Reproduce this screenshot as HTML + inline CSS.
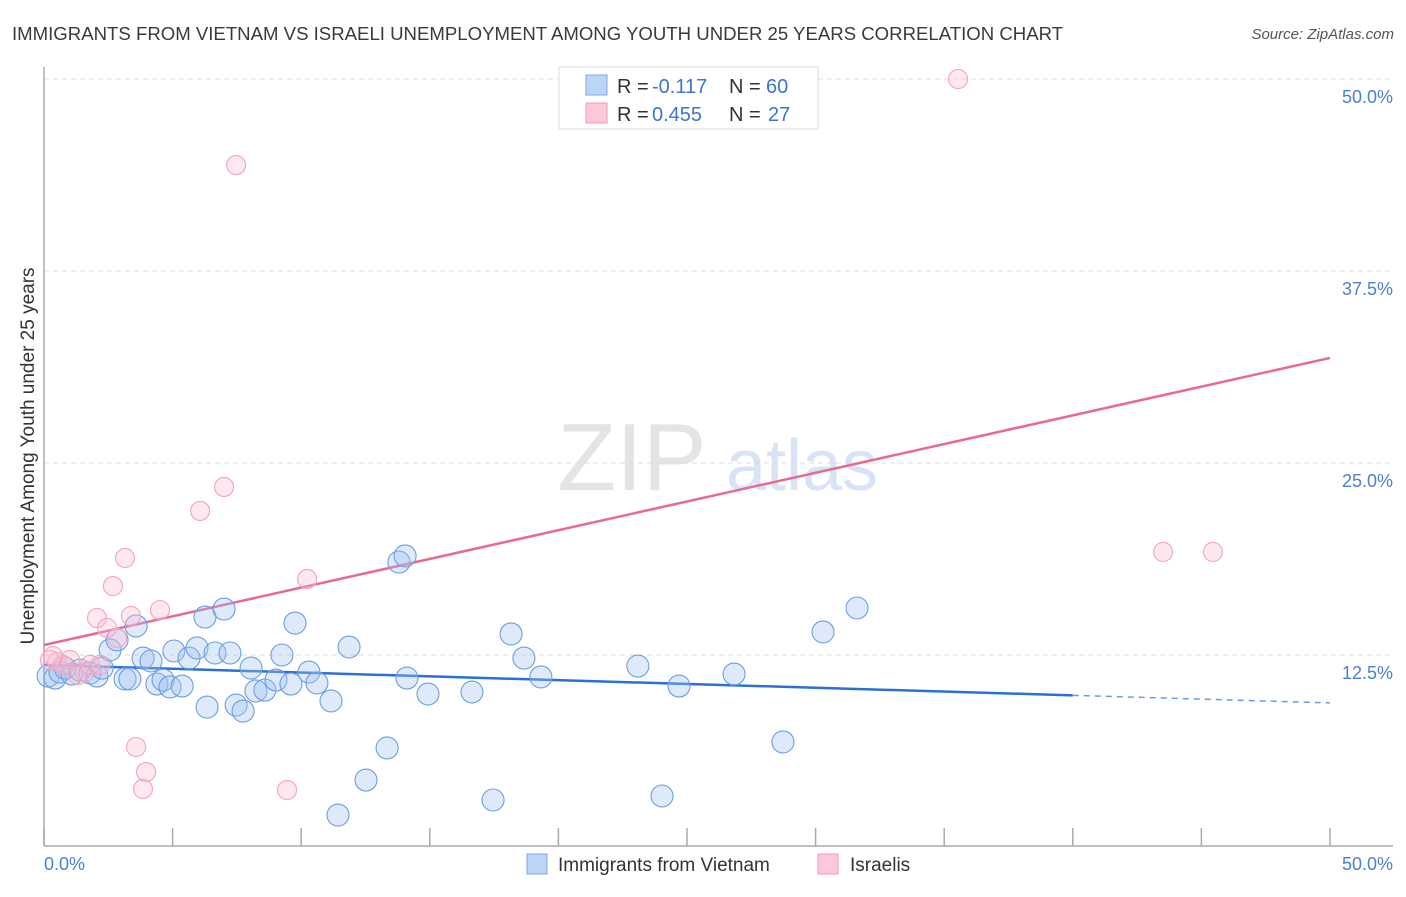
<!DOCTYPE html>
<html><head><meta charset="utf-8"><style>
body{margin:0;background:#fff;font-family:"Liberation Sans",sans-serif;}
svg text{font-family:"Liberation Sans",sans-serif;}
</style></head><body>
<svg id="chart" width="1406" height="892" xmlns="http://www.w3.org/2000/svg">
<text x="12" y="40" font-size="18.6" fill="#3a3a3a">IMMIGRANTS FROM VIETNAM VS ISRAELI UNEMPLOYMENT AMONG YOUTH UNDER 25 YEARS CORRELATION CHART</text>
<text x="1394" y="39" font-size="15" fill="#555" text-anchor="end" font-style="italic">Source: ZipAtlas.com</text>
<g>
<text x="632" y="490" font-size="96" fill="#e4e4e4" text-anchor="middle" font-family="Liberation Serif,serif">ZIP</text>
<text x="802" y="490" font-size="72" fill="#d8e4f6" text-anchor="middle">atlas</text>
</g>
<g id="grid"></g>
<line x1="44" y1="67" x2="44" y2="846" stroke="#aaa" stroke-width="1.5"/>
<line x1="44" y1="846" x2="1393" y2="846" stroke="#aaa" stroke-width="1.5"/>
<g id="xticks"></g>
<text transform="translate(34,456) rotate(-90)" font-size="19" fill="#333" text-anchor="middle">Unemployment Among Youth under 25 years</text>
<text x="44" y="870" font-size="18" fill="#4a7fd6">0.0%</text>
<text x="1393" y="870" font-size="18" fill="#4a7fd6" text-anchor="end">50.0%</text>
<g id="lines"></g>
<g id="points"></g>
<g>
<rect x="559" y="67" width="259" height="62" fill="#fff" stroke="#ddd"/>
<rect x="586" y="75" width="21" height="20" fill="#bcd4f6" stroke="#7fa8e8"/>
<rect x="586" y="103" width="21" height="20" fill="#fbc8d8" stroke="#f09ab5"/>
<text x="617" y="93" font-size="20" fill="#333">R =</text>
<text x="652" y="93" font-size="20" fill="#3b74d1">-0.117</text>
<text x="729" y="93" font-size="20" fill="#333">N =</text>
<text x="766" y="93" font-size="20" fill="#3b74d1">60</text>
<text x="617" y="121" font-size="20" fill="#333">R =</text>
<text x="652" y="121" font-size="20" fill="#3b74d1">0.455</text>
<text x="729" y="121" font-size="20" fill="#333">N =</text>
<text x="768" y="121" font-size="20" fill="#3b74d1">27</text>
</g>
<g>
<rect x="527" y="854" width="20" height="20" fill="#bcd4f6" stroke="#7fa8e8"/>
<text x="558" y="871" font-size="19" fill="#333">Immigrants from Vietnam</text>
<rect x="818" y="854" width="20" height="20" fill="#fbc8d8" stroke="#f09ab5"/>
<text x="850" y="871" font-size="19" fill="#333">Israelis</text>
</g>
</svg>
<script>
const yTicks=[12.5,25,37.5,50];
const yTickLabels=["12.5%","25.0%","37.5%","50.0%"];
const xTicks=[0,5,10,15,20,25,30,35,40,45,50];
const blueX=[0.16,0.43,0.62,0.82,1.09,1.40,1.79,2.06,2.26,2.57,2.84,3.15,3.34,3.58,3.85,4.16,4.39,4.63,4.90,5.05,5.37,5.64,5.95,6.26,6.34,6.65,7.00,7.23,7.47,7.74,8.05,8.24,8.59,9.02,9.25,9.60,9.76,10.30,10.61,11.16,11.43,11.86,12.52,13.34,13.80,14.04,14.11,14.93,16.64,17.46,18.16,18.66,19.32,23.09,24.03,24.69,26.83,28.73,30.29,31.61];
const blueY=[11.13,11.0,11.39,11.65,11.26,11.52,11.33,11.13,11.65,12.83,13.48,10.94,10.94,14.39,12.30,12.11,10.61,10.87,10.42,12.76,10.48,12.30,12.96,14.97,9.11,12.63,15.49,12.63,9.24,8.85,11.65,10.16,10.22,10.87,12.50,10.61,14.58,11.39,10.68,9.51,2.08,13.02,4.36,6.45,18.55,18.95,11.00,9.96,10.09,3.06,13.87,12.30,11.07,11.78,3.32,10.48,11.26,6.84,14.00,15.56];
const pinkX=[35.54,7.47,7.00,6.07,3.15,10.23,2.68,2.06,3.38,4.51,2.45,2.84,3.58,3.97,3.85,9.45,43.51,45.45,0.23,0.51,0.74,1.01,1.32,1.59,1.79,2.18,0.35];
const pinkY=[50.0,44.40,23.44,21.88,18.82,17.45,16.99,14.91,15.04,15.43,14.26,13.61,6.51,4.88,3.78,3.71,19.21,19.21,12.17,12.04,11.85,12.17,11.20,11.39,11.85,11.85,12.43];
const blueTrend=[11.85,9.38];
const pinkTrend=[13.15,31.84];
const blueSolidEnd=40;
const NS="http://www.w3.org/2000/svg";
const sx=v=>44+v*25.72;
const sy=v=>847-v*15.36;
function mk(tag,attrs,parent){const e=document.createElementNS(NS,tag);for(const k in attrs)e.setAttribute(k,attrs[k]);document.getElementById(parent).appendChild(e);return e;}
yTicks.forEach((t,i)=>{
 const l=mk('line',{x1:44,x2:1393,y1:sy(t),y2:sy(t),stroke:'#ddd','stroke-dasharray':'5,4'},'grid');
 
 
 const tx=mk('text',{x:1393,y:sy(t)+24,'font-size':18,fill:'#4a7fd6','text-anchor':'end'},'grid');
 tx.textContent=yTickLabels[i];
 
 
});
xTicks.forEach(t=>{
 const l=mk('line',{x1:sx(t),x2:sx(t),y1:828,y2:846,stroke:'#aaa','stroke-width':1.5},'xticks');
 
 
});
const bt=v=>blueTrend[0]+(blueTrend[1]-blueTrend[0])*v/50;
let l1=mk('line',{x1:sx(0),y1:sy(bt(0)),x2:sx(blueSolidEnd),y2:sy(bt(blueSolidEnd)),stroke:'#2a6fd6','stroke-width':2.5},'lines');


let l2=mk('line',{x1:sx(blueSolidEnd),y1:sy(bt(blueSolidEnd)),x2:sx(50),y2:sy(bt(50)),stroke:'#6d9be0','stroke-width':1.5,'stroke-dasharray':'6,5'},'lines');


let l3=mk('line',{x1:sx(0),y1:sy(pinkTrend[0]),x2:sx(50),y2:sy(pinkTrend[1]),stroke:'#e66a93','stroke-width':2.5},'lines');


blueX.forEach((x,i)=>{
 const c=mk('circle',{cx:sx(x),cy:sy(blueY[i]),r:11,fill:'rgba(160,196,240,0.35)',stroke:'#6d9de2','stroke-width':1.1},'points');
 
 
});
pinkX.forEach((x,i)=>{
 const c=mk('circle',{cx:sx(x),cy:sy(pinkY[i]),r:9.5,fill:'rgba(248,190,208,0.35)',stroke:'#f0a4bd','stroke-width':1.1},'points');
 
 
});
</script>
</body></html>
